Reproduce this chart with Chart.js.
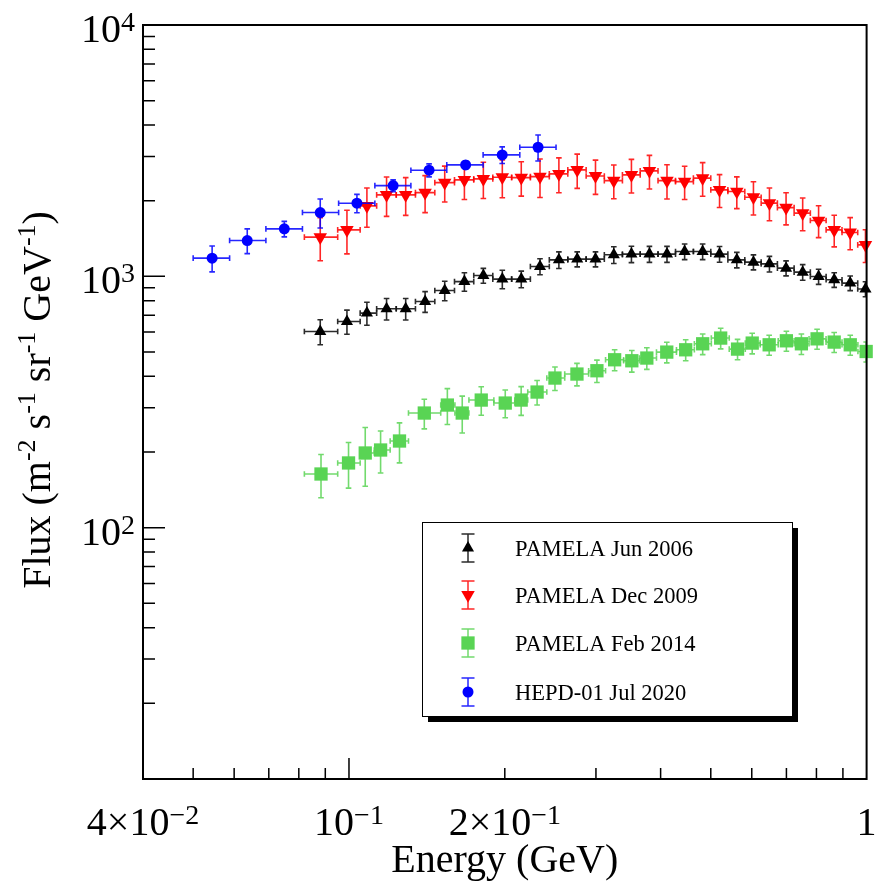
<!DOCTYPE html>
<html>
<head>
<meta charset="utf-8">
<script src="https://cdn.jsdelivr.net/npm/chart.js@4.4.1/dist/chart.umd.min.js"></script>
<style>
html,body{margin:0;padding:0;background:#fff;}
#wrap{width:876px;height:886px;}
</style>
</head>
<body>
<div id="wrap"><canvas id="flux-chart" width="876" height="886"></canvas></div>
<script>
// PAMELA Jun 2006 / Dec 2009 share the same energy bins (GeV)
const pamE  = [0.0880,0.0991,0.1083,0.1182,0.1287,0.1403,0.1531,0.1671,0.1818,0.1978,0.2152,0.2339,0.2544,0.2760,0.2994,0.3248,0.3513,0.3806,0.4115,0.4451,0.4822,0.5199,0.5614,0.6045,0.6491,0.6989,0.7525,0.8077,0.8659,0.9296,0.995];
const pamLo = [0.0820,0.0951,0.1051,0.1131,0.1234,0.1344,0.1465,0.1599,0.1742,0.1896,0.2062,0.2241,0.2438,0.2647,0.2872,0.3114,0.3375,0.3653,0.3954,0.4274,0.4628,0.5000,0.5395,0.5817,0.6256,0.6725,0.7244,0.7786,0.8352,0.8964,0.9613];
const pamHi = [0.0951,0.1051,0.1131,0.1234,0.1344,0.1465,0.1599,0.1742,0.1896,0.2062,0.2241,0.2438,0.2647,0.2872,0.3114,0.3375,0.3653,0.3954,0.4274,0.4628,0.5000,0.5395,0.5817,0.6256,0.6725,0.7244,0.7786,0.8352,0.8964,0.9613,1.028];

const jun06Flux = [603,661,714,743,743,794,878,953,1007,975,975,1094,1163,1171,1171,1218,1226,1226,1226,1255,1255,1226,1163,1139,1121,1078,1039,998,969,940,890];
const jun06Err  = [69,73,75,73,73,75,78,81,69,82,74,80,88,80,80,93,92,90,90,90,90,88,82,78,80,74,74,69,65,63,61];

const dec09Flux = [1432,1530,1907,2109,2109,2154,2360,2420,2442,2480,2471,2494,2556,2651,2509,2404,2533,2627,2404,2382,2458,2208,2174,2065,1955,1877,1784,1667,1530,1494,1334];
const dec09Err  = [278,301,340,377,361,361,385,399,402,425,385,434,405,413,391,368,387,402,374,360,376,330,314,312,290,275,265,241,220,219,199];

// PAMELA Feb 2014
const feb14E    = [0.0883,0.0998,0.1075,0.1151,0.1252,0.1398,0.1549,0.1655,0.1801,0.2004,0.2151,0.2309,0.2500,0.2757,0.3013,0.3260,0.3519,0.3762,0.4111,0.4472,0.4823,0.5225,0.5632,0.6012,0.6483,0.6999,0.7482,0.8023,0.8657,0.9299,0.998];
const feb14Lo   = [0.0820,0.0951,0.1051,0.1119,0.1201,0.1303,0.1504,0.1602,0.1705,0.1905,0.2091,0.2215,0.2411,0.2611,0.2904,0.3131,0.3393,0.3641,0.3927,0.4292,0.4648,0.5012,0.5428,0.5829,0.6229,0.6749,0.7244,0.7741,0.8350,0.8964,0.9621];
const feb14Hi   = [0.0951,0.1051,0.1119,0.1201,0.1303,0.1504,0.1602,0.1705,0.1905,0.2091,0.2215,0.2411,0.2611,0.2904,0.3131,0.3393,0.3641,0.3927,0.4292,0.4648,0.5012,0.5428,0.5829,0.6229,0.6749,0.7244,0.7741,0.8350,0.8964,0.9621,1.029];
const feb14Flux = [163.5,180.9,198.2,203.7,221.2,285.8,307.5,285.8,321.9,313.2,321.9,346.4,393.8,408.5,421.1,465.6,461.4,473,499.5,510.2,539,568,513.4,542.5,534,554,539,564,547.5,534,502.3];
const feb14Err  = [31.9,37.3,52.1,38.8,40.1,38.5,50.1,47.9,41.8,39.6,42.1,38.7,42.2,41.9,43.2,44.8,45.6,46.8,47.1,49,50.8,53.6,47.9,51.2,48.9,50.7,50.3,51.6,50.1,48.9,46];

// HEPD-01 Jul 2020
const hepdE    = [0.0544,0.0636,0.0750,0.0880,0.1036,0.1217,0.1428,0.1680,0.1977,0.2319];
const hepdLo   = [0.0500,0.0588,0.0691,0.0813,0.0955,0.1122,0.1317,0.1545,0.1816,0.2138];
const hepdHi   = [0.0588,0.0691,0.0813,0.0955,0.1122,0.1317,0.1545,0.1816,0.2138,0.2512];
const hepdFlux = [1181,1388,1545,1794,1954,2296,2644,2776,3042,3263];
const hepdErr  = [139,157,110,238,164,123,157,105,231,388];

// axis ticks
const xLabelValues = [0.04, 0.1, 0.2, 1];
const xLabels = [["4\u00d710","\u22122"],["10","\u22121"],["2\u00d710","\u22121"],["1",""]];
const xMajor = [0.1];
const xMinor = [0.05,0.06,0.07,0.08,0.09,0.2,0.3,0.4,0.5,0.6,0.7,0.8,0.9];
const yLabelValues = [100, 1000, 10000];
const yLabels = [["10","2"],["10","3"],["10","4"]];
const yMinor = [20,30,40,50,60,70,80,90,200,300,400,500,600,700,800,900,2000,3000,4000,5000,6000,7000,8000,9000];

const legendNames = ["PAMELA Jun 2006","PAMELA Dec 2009","PAMELA Feb 2014","HEPD-01 Jul 2020"];

const FONT = '"Liberation Serif", "Times New Roman", serif';

function pts(xs, ys){
    return xs.map((x,i)=>({x:x, y:ys[i]}));
}

function drawMarker(ctx, style, x, y, r, rot){
    ctx.beginPath();
    if(style === "circle"){
        ctx.arc(x, y, r, 0, Math.PI*2);
    } else if(style === "rect"){
        const s = Math.SQRT1_2 * r;
        ctx.rect(x - s, y - s, 2*s, 2*s);
    } else {
        let a = (rot || 0) * Math.PI / 180;
        ctx.moveTo(x + Math.sin(a)*r, y - Math.cos(a)*r);
        a += Math.PI*2/3;
        ctx.lineTo(x + Math.sin(a)*r, y - Math.cos(a)*r);
        a += Math.PI*2/3;
        ctx.lineTo(x + Math.sin(a)*r, y - Math.cos(a)*r);
        ctx.closePath();
    }
    ctx.fill();
}

// text with one superscript
function supText(ctx, base, sup, x, y, align, size, supSize, raise){
    ctx.font = size + "px " + FONT;
    const wb = ctx.measureText(base).width;
    ctx.font = supSize + "px " + FONT;
    const ws = sup ? ctx.measureText(sup).width : 0;
    let x0 = x;
    if(align === "center") x0 = x - (wb + ws)/2;
    if(align === "right") x0 = x - (wb + ws);
    ctx.textAlign = "left";
    ctx.textBaseline = "alphabetic";
    ctx.font = size + "px " + FONT;
    ctx.fillText(base, x0, y);
    if(sup){
        ctx.font = supSize + "px " + FONT;
        ctx.fillText(sup, x0 + wb, y - raise);
    }
}

const errorBars = {
    id: "errorBars",
    beforeDatasetDraw(chart, args){
        const ds = chart.data.datasets[args.index];
        const xs = chart.scales.x, ys = chart.scales.y, a = chart.chartArea;
        const ctx = chart.ctx;
        const cap = 2.8;
        ctx.save();
        ctx.beginPath();
        ctx.rect(a.left, a.top, a.right - a.left, a.bottom - a.top);
        ctx.clip();
        ctx.strokeStyle = ds.barColor;
        ctx.lineWidth = 1.6;
        ds.data.forEach((p,i)=>{
            const px = xs.getPixelForValue(p.x), py = ys.getPixelForValue(p.y);
            const x1 = xs.getPixelForValue(ds.xLo[i]), x2 = xs.getPixelForValue(ds.xHi[i]);
            const y1 = ys.getPixelForValue(p.y + ds.yErr[i]), y2 = ys.getPixelForValue(p.y - ds.yErr[i]);
            ctx.beginPath();
            ctx.moveTo(x1, py); ctx.lineTo(x2, py);
            ctx.moveTo(px, y1); ctx.lineTo(px, y2);
            ctx.moveTo(x1, py-cap); ctx.lineTo(x1, py+cap);
            ctx.moveTo(x2, py-cap); ctx.lineTo(x2, py+cap);
            ctx.moveTo(px-cap, y1); ctx.lineTo(px+cap, y1);
            ctx.moveTo(px-cap, y2); ctx.lineTo(px+cap, y2);
            ctx.stroke();
        });
        ctx.restore();
    }
};

const frameAndText = {
    id: "frameAndText",
    afterDraw(chart){
        const ctx = chart.ctx, a = chart.chartArea;
        const xs = chart.scales.x, ys = chart.scales.y;
        ctx.save();
        ctx.strokeStyle = "#000";
        ctx.fillStyle = "#000";
        ctx.lineWidth = 2;
        ctx.strokeRect(a.left, a.top, a.right - a.left, a.bottom - a.top);

        // ticks inside the frame
        ctx.lineWidth = 1.5;
        ctx.beginPath();
        yLabelValues.forEach(v=>{ const y = ys.getPixelForValue(v); ctx.moveTo(a.left, y); ctx.lineTo(a.left+22, y); });
        yMinor.forEach(v=>{ const y = ys.getPixelForValue(v); ctx.moveTo(a.left, y); ctx.lineTo(a.left+12, y); });
        xMajor.forEach(v=>{ const x = xs.getPixelForValue(v); ctx.moveTo(x, a.bottom); ctx.lineTo(x, a.bottom-21); });
        xMinor.forEach(v=>{ const x = xs.getPixelForValue(v); ctx.moveTo(x, a.bottom); ctx.lineTo(x, a.bottom-11); });
        ctx.stroke();

        // tick labels
        yLabelValues.forEach((v,i)=>{
            supText(ctx, yLabels[i][0], yLabels[i][1], a.left-8, ys.getPixelForValue(v)+17, "right", 40, 28, 11);
        });
        xLabelValues.forEach((v,i)=>{
            supText(ctx, xLabels[i][0], xLabels[i][1], xs.getPixelForValue(v), a.bottom+56, "center", 40, 28, 11);
        });

        // axis titles
        ctx.font = "40px " + FONT;
        ctx.textAlign = "center";
        ctx.fillText("Energy (GeV)", (a.left+a.right)/2, 872);

        const parts = [["Flux (m",0],["-2",1],[" s",0],["-1",1],[" sr",0],["-1",1],[" GeV",0],["-1",1],[")",0]];
        ctx.save();
        ctx.translate(50, (a.top+a.bottom)/2 - 2);
        ctx.rotate(-Math.PI/2);
        let total = 0;
        parts.forEach(p=>{ ctx.font = (p[1] ? 26 : 40) + "px " + FONT; total += ctx.measureText(p[0]).width; });
        let cx = -total/2;
        ctx.textAlign = "left";
        parts.forEach(p=>{
            ctx.font = (p[1] ? 26 : 40) + "px " + FONT;
            ctx.fillText(p[0], cx, p[1] ? -15 : 0);
            cx += ctx.measureText(p[0]).width;
        });
        ctx.restore();

        // legend box with shadow
        const lx = 422, ly = 522, lw = 370, lh = 194;
        ctx.fillStyle = "#000";
        ctx.fillRect(lx+6, ly+6, lw, lh);
        ctx.fillStyle = "#fff";
        ctx.fillRect(lx, ly, lw, lh);
        ctx.lineWidth = 1;
        ctx.strokeStyle = "#000";
        ctx.strokeRect(lx+0.5, ly+0.5, lw, lh);

        const rows = [548, 595, 643, 692];
        chart.data.datasets.forEach(ds=>{
            const y = rows[ds.legendRow];
            const mx = 468;
            ctx.strokeStyle = ds.barColor;
            ctx.lineWidth = 1.5;
            ctx.beginPath();
            ctx.moveTo(mx, y-14); ctx.lineTo(mx, y+14);
            ctx.moveTo(mx-6.5, y-14); ctx.lineTo(mx+6.5, y-14);
            ctx.moveTo(mx-6.5, y+14); ctx.lineTo(mx+6.5, y+14);
            ctx.stroke();
            ctx.fillStyle = ds.pointBackgroundColor;
            drawMarker(ctx, ds.pointStyle, mx, y, ds.pointRadius, ds.pointRotation);
            ctx.fillStyle = "#000";
            ctx.font = "22.5px " + FONT;
            ctx.textAlign = "left";
            ctx.fillText(legendNames[ds.legendRow], 515, y+8);
        });
        ctx.restore();
    }
};

const config = {
    type: "scatter",
    data: {
        datasets: [
            {
                label: legendNames[0], legendRow: 0, order: 4,
                data: pts(pamE, jun06Flux), xLo: pamLo, xHi: pamHi, yErr: jun06Err,
                pointStyle: "triangle", pointRadius: 7, pointRotation: 0,
                pointBackgroundColor: "#000", pointBorderWidth: 0, barColor: "rgba(20,20,20,0.9)",
            },
            {
                label: legendNames[1], legendRow: 1, order: 3,
                data: pts(pamE, dec09Flux), xLo: pamLo, xHi: pamHi, yErr: dec09Err,
                pointStyle: "triangle", pointRadius: 7.8, pointRotation: 180,
                pointBackgroundColor: "#ff0000", pointBorderWidth: 0, barColor: "rgba(255,0,0,0.85)",
            },
            {
                label: legendNames[2], legendRow: 2, order: 2,
                data: pts(feb14E, feb14Flux), xLo: feb14Lo, xHi: feb14Hi, yErr: feb14Err,
                pointStyle: "rect", pointRadius: 9.4, pointRotation: 0,
                pointBackgroundColor: "#59d454", pointBorderWidth: 0, barColor: "rgba(89,212,84,0.85)",
            },
            {
                label: legendNames[3], legendRow: 3, order: 1,
                data: pts(hepdE, hepdFlux), xLo: hepdLo, xHi: hepdHi, yErr: hepdErr,
                pointStyle: "circle", pointRadius: 5.5, pointRotation: 0,
                pointBackgroundColor: "#0000ff", pointBorderWidth: 0, barColor: "rgba(0,0,255,0.85)",
            },
        ],
    },
    options: {
        responsive: false,
        devicePixelRatio: 1,
        animation: false,
        events: [],
        clip: false,
        layout: { padding: { left: 0, right: 7, top: 25, bottom: 0 } },
        plugins: { legend: { display: false }, tooltip: { enabled: false } },
        scales: {
            x: {
                type: "logarithmic", min: 0.04, max: 1,
                grid: { display: false }, border: { display: false },
                ticks: { display: false },
                afterFit(s){ s.height = 107; },
            },
            y: {
                type: "logarithmic", min: 10, max: 10000,
                grid: { display: false }, border: { display: false },
                ticks: { display: false },
                afterFit(s){ s.width = 143; },
            },
        },
    },
    plugins: [errorBars, frameAndText],
};

const fluxChart = new Chart(document.querySelector("#flux-chart").getContext("2d"), config);
</script>
</body>
</html>
